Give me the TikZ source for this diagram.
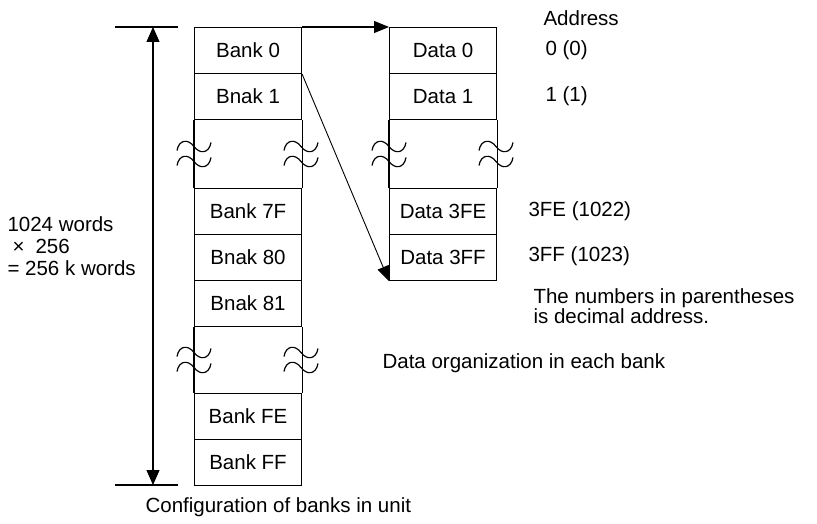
\documentclass[tikz,border=0pt]{standalone}
\usepackage{fontspec}
\setmainfont{Liberation Sans}
\usetikzlibrary{arrows.meta}
\begin{document}
\begin{tikzpicture}[x=1pt,y=-1pt,line width=1.1pt,
  cell/.style={draw,minimum width=107pt,minimum height=46pt,inner sep=0pt,anchor=north west,font=\fontsize{20.5}{23}\selectfont},
  lbl/.style={anchor=west,inner sep=0pt,font=\fontsize{20.5}{22}\selectfont},
  tip/.style={-{Triangle[length=15pt,width=12pt]}},
  dimarrow/.style={{Triangle[length=15pt,width=13pt]}-{Triangle[length=15pt,width=13pt]}},
  wave/.pic={\draw[line width=1.2pt] (-17,4) .. controls (-15,-7) and (-6,-8) .. (0,0) .. controls (6,8) and (15,7) .. (17,-4);}]
\useasboundingbox (0,0) rectangle (817,524);
% bank column
\node[cell] (b0)  at (194,27)  {Bank 0};
\node[cell] (b1)  at (194,73)  {Bnak 1};
\node[cell] (b7f) at (194,188) {Bank 7F};
\node[cell] (b80) at (194,234) {Bnak 80};
\node[cell] (b81) at (194,280) {Bnak 81};
\node[cell] (bfe) at (194,393) {Bank FE};
\node[cell] (bff) at (194,439) {Bank FF};
\draw (b1.south west) -- (b7f.north west);
\draw (b1.south east) -- (b7f.north east);
\draw (b81.south west) -- (bfe.north west);
\draw (b81.south east) -- (bfe.north east);
% data column
\node[cell] (d0)   at (389,27)  {Data 0};
\node[cell] (d1)   at (389,73)  {Data 1};
\node[cell] (d3fe) at (389,188) {Data 3FE};
\node[cell] (d3ff) at (389,234) {Data 3FF};
\draw (d1.south west) -- (d3fe.north west);
\draw (d1.south east) -- (d3fe.north east);
% break marks
\foreach \x in {194,301,389,496}{
  \pic at (\x,146.5) {wave};
  \pic at (\x,161.5) {wave};
}
\foreach \x in {194,301}{
  \pic at (\x,352.5) {wave};
  \pic at (\x,367.5) {wave};
}
% connectors
\draw[tip] (b0.north east) -- (d0.north west);
\draw[tip,line width=0.9pt] (b0.south east) -- (d3ff.south west);
% dimension
\coordinate (t1) at (115,27);
\coordinate (t2) at (178,27);
\coordinate (u1) at (115,485);
\coordinate (u2) at (178,485);
\coordinate (dt) at (153,27);
\coordinate (db) at (153,485);
\draw (t1) -- (t2);
\draw (u1) -- (u2);
\draw[dimarrow] (dt) -- (db);
% labels
\node[lbl] (addr) at (543,18)  {Address};
\node[lbl] (a0)   at (545,50)  {0 (0)};
\node[lbl] (a1)   at (545,96)  {1 (1)};
\node[lbl] (a3fe) at (528,211) {3FE (1022)};
\node[lbl] (a3ff) at (528,256) {3FF (1023)};
\node[lbl,align=left,font=\fontsize{20.5}{17.5}\selectfont] (note) at (533,306) {The numbers in parentheses\\is decimal address.};
\node[lbl] (org)  at (382,363) {Data organization in each bank};
\node[lbl] (conf) at (145,507) {Configuration of banks in unit};
\node[lbl,align=left] (words) at (7,246) {1024 words\\\hspace*{5pt}×\hspace{11pt}256\\= 256 k words};
\end{tikzpicture}
\end{document}
